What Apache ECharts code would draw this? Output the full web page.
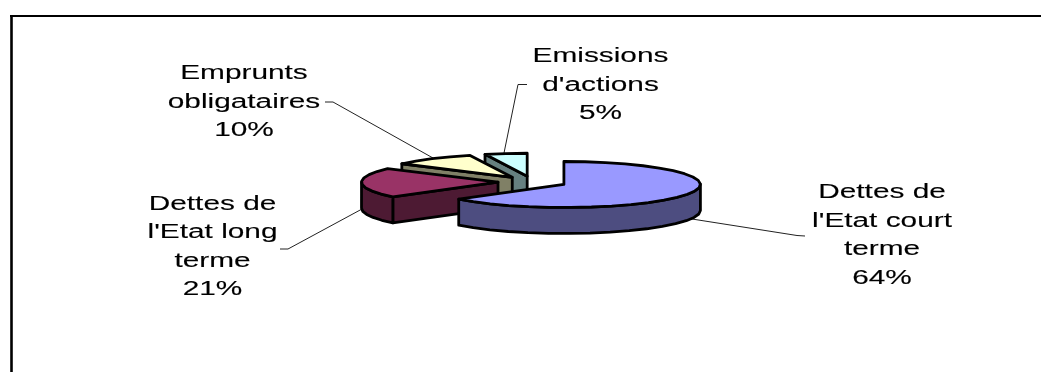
<!DOCTYPE html>
<html>
<head>
<meta charset="utf-8">
<style>html,body{margin:0;padding:0;background:#fff}#chart{width:1041px;height:372px}</style>
<script src="https://cdn.jsdelivr.net/npm/echarts@6/dist/echarts.min.js"></script>
</head>
<body>
<div id="chart"></div>
<script>
// Sources de financement: exploded pseudo-3D pie, clockwise from 12 o'clock.
const categories = ["Dettes de\nl'Etat court\nterme", "Dettes de\nl'Etat long\nterme", "Emprunts\nobligataires", "Emissions\nd'actions"];
const shares = [64, 21, 10, 5];
const topColors = ['#9999FF', '#993366', '#FFFFCC', '#CCFFFF'];
const sideColors = ['#4D4D80', '#4D1A33', '#808066', '#668080'];

// Projection of the disc
const CX = 532.6, CY = 182, RX = 136.5, RY = 23, DEPTH = 26, EXPLODE = 34.6;
const OUTLINE = 2.8;

// Label anchors (text centre) and leader polylines, one per slice
const labelAnchors = [[882, 235.5], [212.5, 247], [244, 102], [600.5, 85]];
const leaders = [
  [[692, 219], [797, 235.5], [805, 236]],
  [[362, 209], [288, 249], [280, 249]],
  [[433, 158], [333, 102], [325, 102]],
  [[504, 153], [518, 84.5], [527, 84.5]]
];

const total = shares.reduce((a, b) => a + b, 0);
const rad = d => d * Math.PI / 180;
const onRim = (o, a, dz) => [o[0] + RX * Math.sin(rad(a)), o[1] - RY * Math.cos(rad(a)) + (dz || 0)];

function arc(o, a, b, dz) {
  const pts = [];
  const steps = Math.max(1, Math.ceil(Math.abs(b - a) / 9));
  for (let i = 0; i <= steps; i++) pts.push(onRim(o, a + (b - a) * i / steps, dz));
  return pts;
}

function renderSlice(params, api) {
  const i = params.dataIndex;
  const value = api.value(0);
  const before = shares.slice(0, i).reduce((a, b) => a + b, 0);
  const a = before / total * 360;
  const b = (before + value) / total * 360;
  const mid = rad((a + b) / 2);
  const o = [CX + EXPLODE * Math.sin(mid), CY - EXPLODE * (RY / RX) * Math.cos(mid)];
  const layer = (shares.length - i) * 10;
  const stroke = { stroke: '#000', lineWidth: OUTLINE, lineJoin: 'round' };
  const children = [];
  const poly = (points, fill, z) => children.push({
    type: 'polygon', z2: layer + z, shape: { points },
    style: Object.assign({ fill }, stroke)
  });

  // Cut face on the start side, when it turns towards the viewer
  if (Math.sin(rad(a)) < -1e-6) {
    const p = onRim(o, a);
    poly([o, p, [p[0], p[1] + DEPTH], [o[0], o[1] + DEPTH]], sideColors[i], 1);
  }
  // Outer wall: only the front half of the rim is seen
  const wa = Math.max(a, 90), wb = Math.min(b, 270);
  if (wb > wa) {
    poly(arc(o, wa, wb).concat(arc(o, wb, wa, DEPTH)), sideColors[i], 2);
  }
  // Top face
  poly([o].concat(arc(o, a, b)), topColors[i], 3);

  // Leader line and stretched label
  children.push({
    type: 'polyline', z2: 1, shape: { points: leaders[i] },
    style: { fill: null, stroke: '#222', lineWidth: 1 }
  });
  children.push({
    type: 'text', z2: 100, x: labelAnchors[i][0], y: labelAnchors[i][1], scaleX: 1.49,
    style: {
      text: categories[i] + '\n' + value + '%',
      font: '20px "Liberation Sans", Arial, sans-serif',
      fill: '#000', stroke: '#000', lineWidth: 0.12,
      align: 'center', verticalAlign: 'middle', lineHeight: 28.5
    }
  });
  return { type: 'group', children };
}

const chart = echarts.init(document.getElementById('chart'), null, { renderer: 'canvas' });
chart.setOption({
  animation: false,
  backgroundColor: '#fff',
  graphic: [
    { type: 'line', z: 5, shape: { x1: 11.5, y1: 16, x2: 11.5, y2: 372 }, style: { stroke: '#000', lineWidth: 2.6 } },
    { type: 'line', z: 5, shape: { x1: 10, y1: 16, x2: 1041, y2: 16 }, style: { stroke: '#000', lineWidth: 2 } }
  ],
  series: [{
    type: 'custom',
    coordinateSystem: 'none',
    renderItem: renderSlice,
    data: shares.map(v => [v]),
    silent: true
  }]
});
</script>
</body>
</html>
